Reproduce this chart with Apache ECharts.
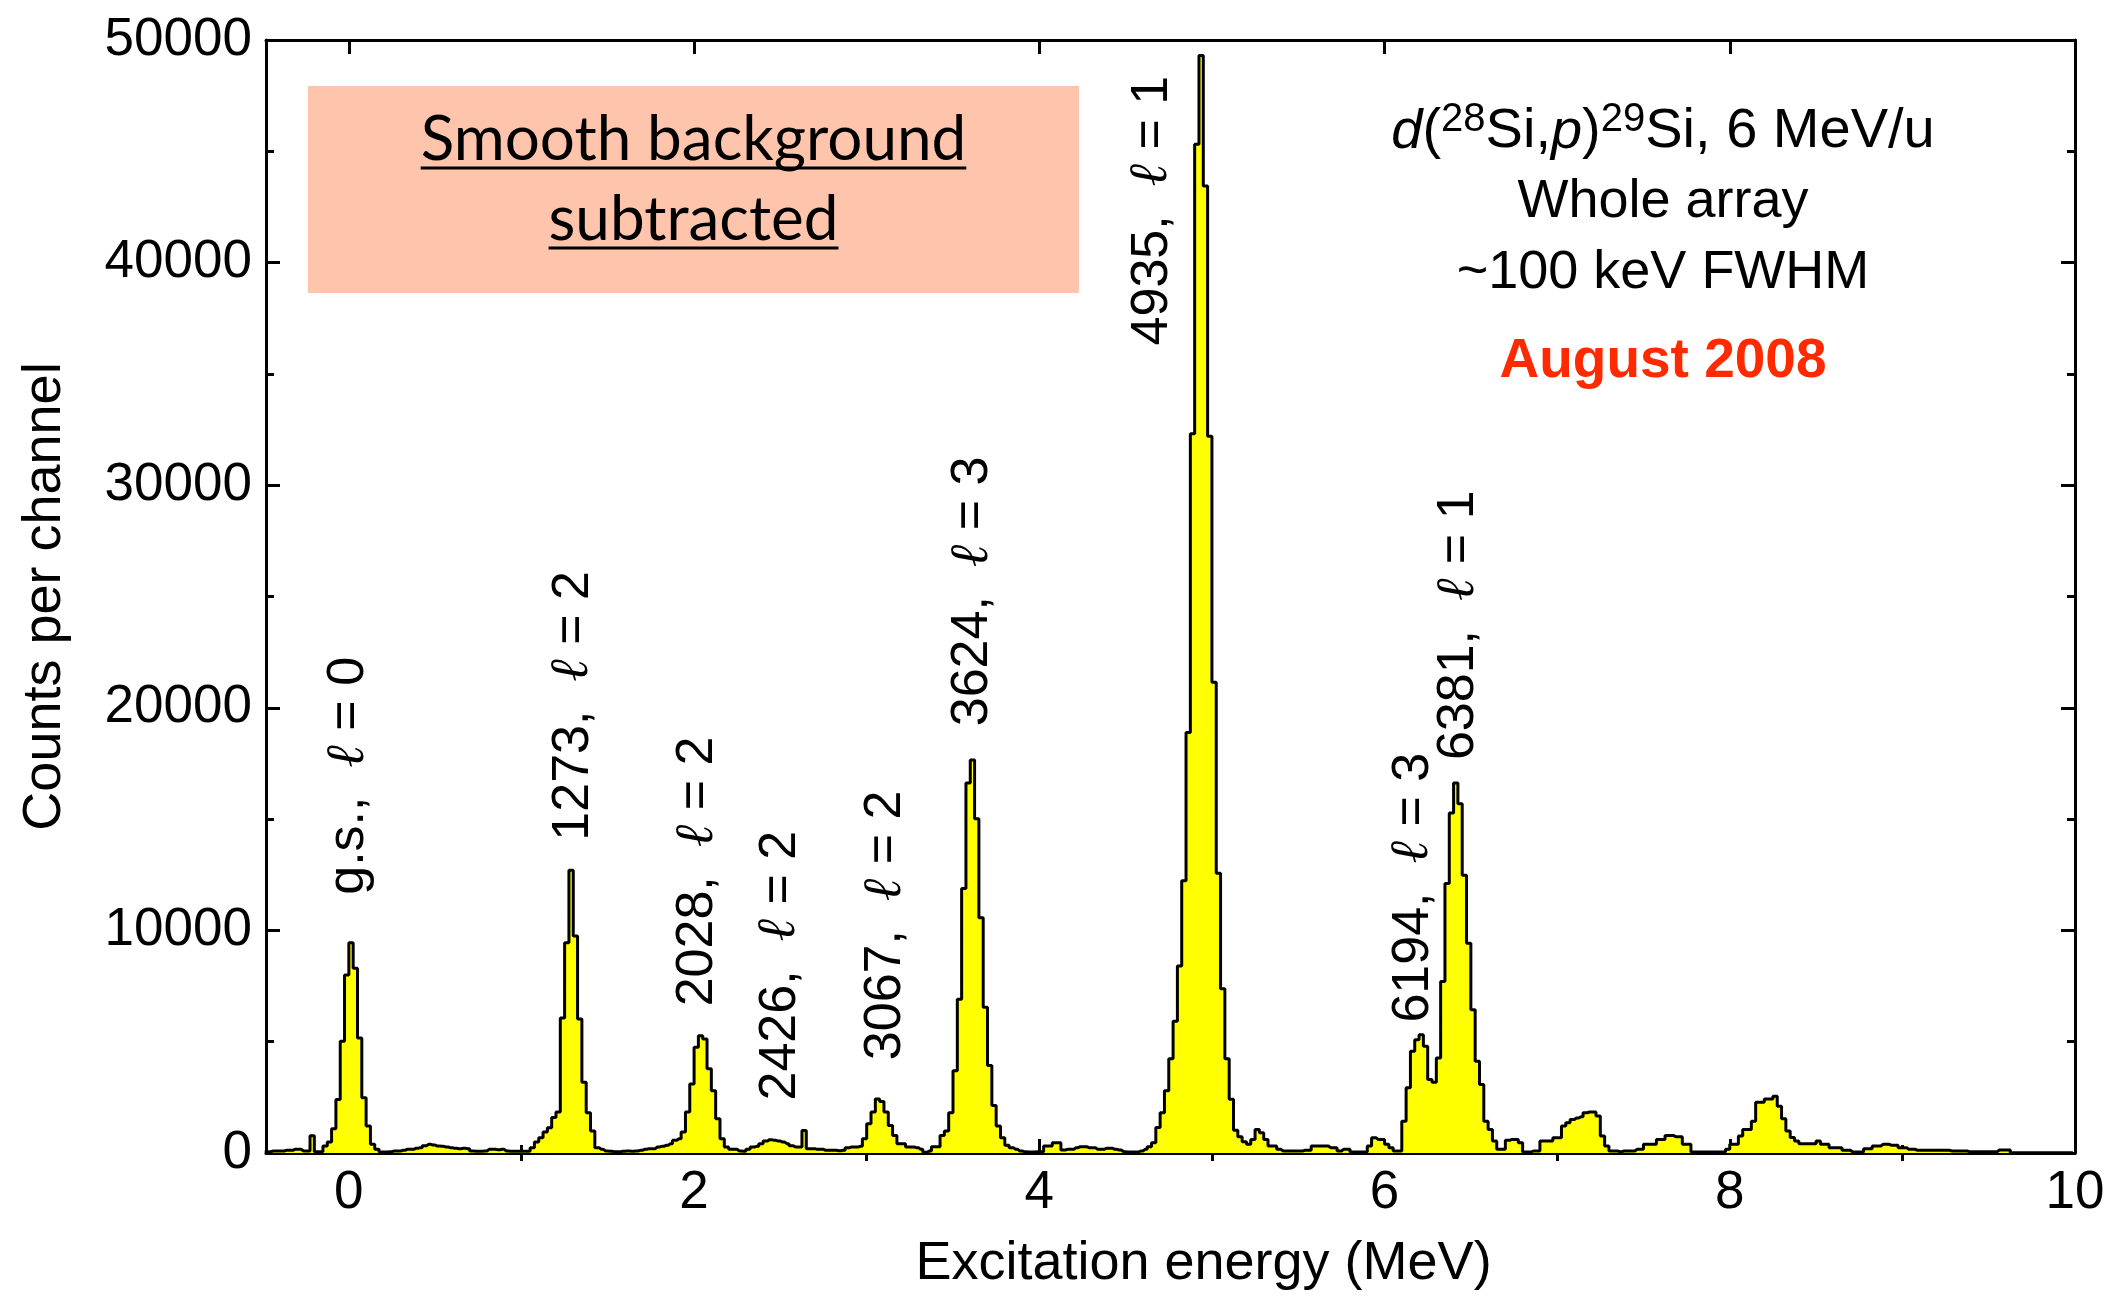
<!DOCTYPE html>
<html>
<head>
<meta charset="utf-8">
<script src="https://cdn.jsdelivr.net/npm/echarts@6/dist/echarts.min.js"></script>
<style>
  html, body { margin: 0; padding: 0; background: #ffffff; }
  #chart { width: 2116px; height: 1296px; }
</style>
</head>
<body>
<div id="chart"></div>
<script>
// ---- Spectrum: counts per 0.025 MeV channel, first channel starts at -0.5 MeV ----
const binStartMeV = -0.5;
const binWidthMeV = 0.025;
const counts = [
  // -0.5 .. 0.0
  60, 60, 90, 90, 90, 120, 120, 165, 165, 90, 90, 780, 60, 60, 310, 490, 1090, 2400, 5020, 8000,
  // 0.0 .. 0.5
  9450, 8300, 5170, 2480, 1210, 390, 165, 45, 45, 60, 90, 90, 120, 165, 165, 210, 240, 330, 390, 360,
  // 0.5 .. 1.0
  310, 300, 270, 240, 210, 195, 210, 195, 90, 75, 75, 90, 165, 165, 150, 165, 90, 75, 75, 75,
  // 1.0 .. 1.5
  75, 75, 240, 490, 690, 940, 1130, 1600, 1840, 6060, 9450, 12700, 9750, 6020, 3180, 1810, 985, 240, 165, 90,
  // 1.5 .. 2.0
  75, 60, 60, 75, 90, 75, 90, 120, 165, 195, 195, 270, 300, 345, 420, 570, 640, 940, 1840, 3100,
  // 2.0 .. 2.5
  4750, 5270, 5120, 3780, 2800, 1540, 640, 270, 165, 165, 90, 75, 165, 270, 300, 420, 540, 600, 570, 540,
  // 2.5 .. 3.0
  490, 420, 330, 270, 270, 1015, 195, 195, 165, 165, 120, 120, 120, 105, 120, 240, 270, 270, 300, 640,
  // 3.0 .. 3.5
  1310, 1840, 2430, 2310, 1840, 1240, 790, 420, 420, 270, 270, 240, 165, 30, 90, 285, 285, 790, 985, 1810,
  // 3.5 .. 4.0
  3700, 6910, 11880, 16620, 17660, 15020, 10570, 6550, 3930, 2135, 1210, 690, 345, 240, 165, 90, 60, 45, 45, 60,
  // 4.0 .. 4.5
  60, 315, 315, 460, 460, 135, 165, 165, 240, 285, 285, 240, 240, 165, 165, 210, 210, 165, 135, 60,
  // 4.5 .. 5.0
  45, 45, 45, 90, 165, 280, 460, 1140, 1810, 2800, 4230, 5920, 8400, 12230, 18890, 32310, 45320, 49300, 43440, 32200,
  // 5.0 .. 5.5
  21150, 12570, 7380, 4230, 2420, 1020, 730, 505, 390, 610, 1060, 910, 610, 315, 315, 165, 90, 90, 90, 90,
  // 5.5 .. 6.0
  90, 120, 120, 315, 315, 315, 315, 240, 240, 90, 165, 165, 45, 45, 45, 45, 315, 690, 610, 610,
  // 6.0 .. 6.5
  390, 240, 90, 90, 1430, 2930, 4570, 5090, 5315, 4800, 3300, 3180, 4270, 7700, 12110, 15270, 16620, 15690, 12480, 9420,
  // 6.5 .. 7.0
  6430, 4120, 3075, 1430, 1060, 540, 165, 165, 570, 610, 610, 460, 45, 45, 90, 90, 540, 540, 540, 690,
  // 7.0 .. 7.5
  690, 1210, 1360, 1510, 1570, 1630, 1810, 1840, 1840, 1660, 760, 315, 90, 90, 60, 90, 90, 90, 165, 165,
  // 7.5 .. 8.0
  390, 390, 390, 610, 610, 790, 790, 730, 730, 390, 390, 45, 45, 45, 45, 45, 45, 45, 45, 165,
  // 8.0 .. 8.5
  390, 390, 760, 1060, 1060, 1430, 2280, 2280, 2430, 2430, 2550, 2100, 1540, 985, 700, 540, 420, 420, 420, 420,
  // 8.5 .. 9.0
  540, 390, 390, 240, 240, 240, 120, 120, 45, 45, 45, 195, 195, 315, 315, 390, 390, 345, 345, 240,
  // 9.0 .. 9.5
  240, 165, 165, 120, 120, 120, 120, 120, 120, 120, 120, 90, 90, 90, 90, 60, 60, 60, 60, 60,
  // 9.5 .. 10.0
  60, 60, 135, 135, 135, 15, 15, 15, 15, 15, 15, 15, 15, 15, 15, 15, 15, 15, 15, 15
];

// ---- Axis ticks ----
const xMajorTicks = [0, 2, 4, 6, 8, 10];
const xMinorTicks = [1, 3, 5, 7, 9];
const yMin = 0, yMax = 50000, yStep = 10000;

// ---- Level annotations: energy (MeV), count where the text starts, level, orbital l ----
const peakLabelEnergy = [0.0, 1.30, 2.02, 2.50, 3.11, 3.615, 4.655, 6.166, 6.43];
const peakLabelBase   = [11600, 14030, 6590, 2360, 4170, 19170, 36280, 5860, 17650];
const peakLevelName   = ['g.s.', '1273', '2028', '2426', '3067', '3624', '4935', '6194', '6381'];
const peakOrbitalL    = [0, 2, 2, 2, 2, 3, 1, 3, 1];

// ---- Text blocks ----
const boxLines = ['Smooth background', 'subtracted'];
const infoLine2 = 'Whole array';
const infoLine3 = '~100 keV FWHM';
const infoDate = 'August 2008';

const FONT = "'Liberation Sans', Arial, Helvetica, sans-serif";
const BOX_FONT = "Lato, 'Open Sans', sans-serif";

// histogram points at channel centres (drawn as steps)
const histData = counts.map((c, i) => [binStartMeV + (i + 0.5) * binWidthMeV, c]);

const labelData = peakLabelEnergy.map((e, i) => ({
  value: [e, peakLabelBase[i]],
  name: peakLevelName[i] + ',  {l|\u2113} = ' + peakOrbitalL[i]
}));

const chart = echarts.init(document.getElementById('chart'), null, { renderer: 'canvas' });

const frameLine = { color: '#000', width: 3 };
const tickLine = { color: '#000', width: 3 };

function measure(text, font) {
  const c = document.createElement('canvas').getContext('2d');
  c.font = font;
  return c.measureText(text).width;
}

// salmon note box
const boxRect = { x: 308, y: 86, w: 771, h: 207 };
const boxFontSize = 62;
const boxCx = boxRect.x + boxRect.w / 2;
const boxLineY = [140, 220];
const boxGraphics = [{
  type: 'rect', shape: { x: boxRect.x, y: boxRect.y, width: boxRect.w, height: boxRect.h },
  style: { fill: '#FFC4AC' }, z: 1
}];
boxLines.forEach((t, i) => {
  const w = measure(t, boxFontSize + 'px Lato');
  boxGraphics.push({
    type: 'text', x: boxCx, y: boxLineY[i], z: 3,
    style: { text: t, font: boxFontSize + 'px ' + BOX_FONT, fill: '#000', align: 'center', verticalAlign: 'middle' }
  });
  boxGraphics.push({
    type: 'line', z: 3,
    shape: { x1: boxCx - w / 2, y1: boxLineY[i] + 28, x2: boxCx + w / 2, y2: boxLineY[i] + 28 },
    style: { stroke: '#000', lineWidth: 3 }
  });
});

const infoCx = 1663;
const infoGraphics = [
  {
    type: 'text', x: infoCx, y: 132, z: 3,
    style: {
      text: '{i|d}{n|(}{s|28}{n|Si,}{i|p}{n|)}{s|29}{n|Si, 6 MeV/u}',
      align: 'center', verticalAlign: 'middle',
      rich: {
        n: { fontSize: 56, fontFamily: FONT, fill: '#000' },
        i: { fontSize: 56, fontFamily: FONT, fontStyle: 'italic', fill: '#000' },
        s: { fontSize: 40, fontFamily: FONT, fill: '#000', padding: [0, 0, 24, 0] }
      }
    }
  },
  { type: 'text', x: infoCx, y: 202, z: 3,
    style: { text: infoLine2, font: '54px ' + FONT, fill: '#000', align: 'center', verticalAlign: 'middle' } },
  { type: 'text', x: infoCx, y: 273, z: 3,
    style: { text: infoLine3, font: '54px ' + FONT, fill: '#000', align: 'center', verticalAlign: 'middle' } },
  { type: 'text', x: infoCx, y: 362, z: 3,
    style: { text: infoDate, font: 'bold 55px ' + FONT, fill: '#FF2A00', align: 'center', verticalAlign: 'middle' } }
];

const hiddenAxisBits = {
  axisLabel: { show: false },
  splitLine: { show: false }
};

const option = {
  backgroundColor: '#ffffff',
  animation: false,
  grid: { left: 266, right: 41, top: 40, bottom: 139, containLabel: false },
  xAxis: [
    {
      type: 'value', min: -0.48, max: 10, position: 'bottom',
      axisLine: { show: true, onZero: false, lineStyle: frameLine },
      axisTick: { show: true, inside: true, length: 14, customValues: xMajorTicks, lineStyle: tickLine },
      axisLabel: { show: true, customValues: xMajorTicks, fontSize: 53, fontFamily: FONT, color: '#000', margin: 14 },
      splitLine: { show: false },
      name: 'Excitation energy (MeV)', nameLocation: 'middle', nameGap: 84,
      nameTextStyle: { fontSize: 54, fontFamily: FONT, color: '#000', padding: [0, 0, 0, 66] }
    },
    Object.assign({
      type: 'value', min: -0.48, max: 10, position: 'bottom',
      axisLine: { show: false },
      axisTick: { show: true, inside: true, length: 8, customValues: xMinorTicks, lineStyle: tickLine }
    }, hiddenAxisBits),
    Object.assign({
      type: 'value', min: -0.48, max: 10, position: 'top',
      axisLine: { show: true, onZero: false, lineStyle: frameLine },
      axisTick: { show: true, inside: true, length: 14, customValues: xMajorTicks, lineStyle: tickLine }
    }, hiddenAxisBits),
    Object.assign({
      type: 'value', min: -0.48, max: 10, position: 'top',
      axisLine: { show: false },
      axisTick: { show: true, inside: true, length: 8, customValues: xMinorTicks, lineStyle: tickLine }
    }, hiddenAxisBits)
  ],
  yAxis: [
    {
      type: 'value', min: yMin, max: yMax, interval: yStep, position: 'left',
      axisLine: { show: true, onZero: false, lineStyle: frameLine },
      axisTick: { show: true, inside: true, length: 14, lineStyle: tickLine },
      minorTick: { show: true, splitNumber: 2, length: 8, lineStyle: tickLine },
      axisLabel: { fontSize: 53, fontFamily: FONT, color: '#000', margin: 14, formatter: v => String(v) },
      splitLine: { show: false },
      name: 'Counts per channel', nameLocation: 'middle', nameGap: 194,
      nameTextStyle: { fontSize: 54, fontFamily: FONT, color: '#000' }
    },
    Object.assign({
      type: 'value', min: yMin, max: yMax, interval: yStep, position: 'right',
      axisLine: { show: true, onZero: false, lineStyle: frameLine },
      axisTick: { show: true, inside: true, length: 14, lineStyle: tickLine },
      minorTick: { show: true, splitNumber: 2, length: 8, lineStyle: tickLine }
    }, hiddenAxisBits)
  ],
  series: [
    {
      name: 'counts', type: 'line', xAxisIndex: 0, yAxisIndex: 0,
      step: 'middle', symbol: 'none', data: histData,
      lineStyle: { color: '#000', width: 3 },
      areaStyle: { color: '#FFFF00', opacity: 1 },
      z: 2
    },
    {
      name: 'levels', type: 'scatter', xAxisIndex: 0, yAxisIndex: 0,
      symbolSize: 0, data: labelData, z: 4,
      itemStyle: { opacity: 1 },
      label: {
        show: true, position: [0, 0], rotate: 90, align: 'left', verticalAlign: 'middle',
        formatter: p => p.name,
        fontSize: 52, fontFamily: FONT, color: '#000', opacity: 1,
        rich: { l: { fontSize: 54, fontFamily: "'DejaVu Serif', serif", fontStyle: 'italic', color: '#000' } }
      }
    }
  ],
  graphic: boxGraphics.concat(infoGraphics)
};

chart.setOption(option);
</script>
</body>
</html>
